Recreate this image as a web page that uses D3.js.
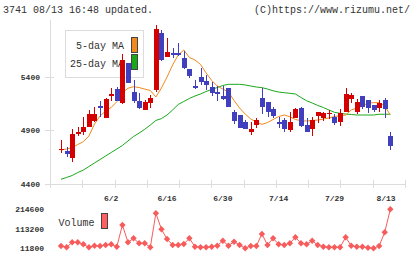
<!DOCTYPE html>
<html><head><meta charset="utf-8">
<script src="https://cdn.jsdelivr.net/npm/d3@7"></script>
<style>
html,body{margin:0;padding:0;background:#fff;}
svg{display:block;}
text{font-family:"Liberation Mono","DejaVu Sans Mono",monospace;}
</style></head>
<body>
<svg id="c" width="420" height="259"></svg>
<script>
const dates = ["5/20","5/21","5/22","5/23","5/26","5/27","5/28","5/29","5/30",
"6/2","6/3","6/4","6/5","6/6","6/9","6/10","6/11","6/12","6/13",
"6/16","6/17","6/18","6/19","6/20","6/23","6/24","6/25","6/26","6/27",
"6/30","7/1","7/2","7/3","7/4","7/7","7/8","7/9","7/10","7/11",
"7/14","7/15","7/16","7/17","7/18","7/22","7/23","7/24","7/25","7/28",
"7/29","7/30","7/31","8/1","8/4","8/5","8/6","8/7","8/8","8/12","8/13"];
const opens  = [4720,4710,4640,4863,4885,4934,4987,5127,5018,5223,5283,5158,5525,5260,5174,5090,5158,5276,5805,5586,
                5618,5618,5572,5469,5313,5397,5360,5307,5257,5220,5295,5068,5043,4978,4887,4950,5202,5162,5097,4981,
                4996,4903,5018,5111,4950,4913,5037,5012,5050,5024,4975,5074,5189,5068,5220,5183,5136,5111,5183,4850];
const highs  = [4810,4748,4910,4934,5020,5090,5120,5174,5204,5298,5307,5609,5530,5369,5248,5183,5229,5882,5835,5764,
                5665,5711,5637,5472,5369,5478,5416,5355,5313,5311,5295,5092,5043,4996,4982,5018,5295,5162,5120,5023,
                5012,5068,5106,5120,5012,5027,5074,5074,5090,5050,5099,5298,5245,5192,5220,5183,5136,5183,5204,4887];
const lows   = [4686,4654,4602,4847,4857,4927,4980,5022,5012,5176,5176,5146,5340,5155,5099,5085,5106,5260,5546,5581,
                5572,5593,5469,5388,5281,5323,5276,5220,5176,5186,5113,4962,4925,4913,4860,4924,5052,5024,5018,4924,
                4887,4887,5012,4934,4887,4850,4966,4990,5003,4950,4943,5074,5152,5050,5099,5059,5074,5074,5012,4717];
const closes = [4725,4682,4866,4882,4931,5050,5050,5106,5192,5239,5176,5556,5344,5174,5111,5167,5204,5845,5556,5633,
                5602,5605,5484,5411,5297,5351,5323,5251,5242,5188,5113,4987,4925,4915,4910,4996,5113,5074,5034,4956,
                4915,4981,5099,4941,4887,4996,5074,5059,5059,4970,5059,5239,5229,5162,5120,5106,5090,5158,5099,4754];
const ma5  = [4717,4726,4740,4768,4794,4847,4959,5034,5080,5113,5167,5248,5292,5307,5299,5285,5271,5211,5295,5397,
              5509,5602,5649,5579,5556,5514,5435,5365,5313,5285,5257,5178,5108,5052,5006,4978,4956,4973,5001,5029,
              5043,5027,5001,4990,4987,4992,4996,5006,5015,5029,5036,5043,5090,5108,5127,5155,5158,5158,5127,5043];
const ma25 = [4444,4461,4479,4507,4530,4563,4596,4628,4661,4694,4726,4759,4801,4843,4875,4910,4950,4992,5010,5043,
              5090,5141,5169,5197,5220,5239,5262,5281,5299,5318,5329,5329,5329,5323,5313,5304,5298,5285,5269,5257,
              5251,5245,5239,5206,5176,5155,5132,5113,5090,5068,5059,5052,5048,5043,5043,5043,5043,5050,5050,5050];
const volumes = [23800,17000,43000,43000,32600,17000,25300,23800,29000,32600,20100,133000,43000,63800,37800,37800,17000,193800,110600,60200,
                 29000,29000,34200,63800,20100,17000,17000,20100,25300,51300,25300,46100,29000,11800,23800,23800,86200,29000,63800,32600,
                 29000,37800,69000,37800,32600,51300,29000,20100,17000,17000,17000,69000,25300,20100,20100,15000,11800,23800,95000,214600];
const priceTicks = [4400,4900,5400];
const volumeTicks = [11800,113200,214600];
const dateLabels = ["6/2","6/16","6/30","7/14","7/29","8/13"];
const headerLeft = "3741 08/13 16:48 updated.";
const headerRight = "(C)https://www.rizumu.net/";
const legendItems = [{name:"5-day MA", color:"#f08a1c"},{name:"25-day MA", color:"#1aa81a"}];

const svg = d3.select("#c");
const UP = "#d40000", DOWN = "#4040bf", AXIS = "#dcdcdc", TXT = "#333";

const x = d3.scalePoint().domain(dates).range([61, 390.3]);
const y = d3.scaleLinear().domain([4400, 5400]).range([184, 76.7]);
const yv = d3.scaleLinear().domain([11800, 214600]).range([248.3, 209.3]);
const xg = d3.scaleLinear().domain([0, 11]).range([50, 405]);

// header
svg.append("text").attr("x", 3).attr("y", 13).attr("font-size", 10).attr("fill", TXT).text(headerLeft);
svg.append("text").attr("x", 410).attr("y", 13).attr("font-size", 10).attr("fill", TXT).attr("text-anchor","end").text(headerRight);

// axes
const g = svg.append("g").attr("shape-rendering","crispEdges");
g.append("line").attr("x1",50.5).attr("x2",50.5).attr("y1",20).attr("y2",188).attr("stroke",AXIS);
g.append("line").attr("x1",50).attr("x2",405).attr("y1",184.5).attr("y2",184.5).attr("stroke",AXIS);
g.selectAll(".xt").data(d3.range(0,12)).join("line")
  .attr("x1", d => Math.round(xg(d))+0.5).attr("x2", d => Math.round(xg(d))+0.5)
  .attr("y1",180).attr("y2",188).attr("stroke",AXIS);
g.selectAll(".yt").data(priceTicks).join("line")
  .attr("x1",45).attr("x2",54).attr("y1", d => Math.round(y(d))+0.5).attr("y2", d => Math.round(y(d))+0.5).attr("stroke",AXIS);
svg.selectAll(".yl").data(priceTicks).join("text")
  .attr("x",40).attr("y", d => y(d)+3).attr("text-anchor","end").attr("font-size",8).attr("font-weight","bold").attr("fill",TXT)
  .text(d => d);
svg.selectAll(".dl").data(dateLabels).join("text")
  .attr("x", d => Math.min(x(d), 386)).attr("y",201).attr("text-anchor","middle").attr("font-size",8).attr("font-weight","bold").attr("fill",TXT)
  .text(d => d);

// legend box
const lg = svg.append("g").attr("shape-rendering","crispEdges");
lg.append("rect").attr("x",65.5).attr("y",30.5).attr("width",78).attr("height",47).attr("fill","#fff").attr("stroke","#dcdcdc");
legendItems.forEach((it,i) => {
  svg.append("text").attr("x",124).attr("y",49.3 + i*17.4).attr("text-anchor","end").attr("font-size",10).attr("fill",TXT).text(it.name);
  lg.append("rect").attr("x",131.5).attr("y",37.5 + i*17).attr("width",5.5).attr("height",14.5).attr("fill",it.color).attr("stroke","#444");
});

// MA lines
const lineGen = d3.line().x((d,i) => x(dates[i])).y(d => y(d));
svg.append("path").datum(ma25).attr("d", lineGen).attr("fill","none").attr("stroke",legendItems[1].color).attr("stroke-width",1);
svg.append("path").datum(ma5).attr("d", lineGen).attr("fill","none").attr("stroke",legendItems[0].color).attr("stroke-width",1);

// candles
const cg = svg.append("g").attr("shape-rendering","crispEdges");
const cd = dates.map((d,i) => ({d, o:opens[i], h:highs[i], l:lows[i], c:closes[i]}));
cg.selectAll(".w").data(cd).join("line")
  .attr("x1", d => Math.round(x(d.d))+0.5).attr("x2", d => Math.round(x(d.d))+0.5)
  .attr("y1", d => y(d.h)).attr("y2", d => y(d.l))
  .attr("stroke", d => d.c >= d.o ? UP : DOWN);
cg.selectAll(".b").data(cd).join("rect")
  .attr("x", d => Math.round(x(d.d))-2).attr("width", 5)
  .attr("y", d => y(Math.max(d.o,d.c)))
  .attr("height", d => Math.max(1.2, y(Math.min(d.o,d.c)) - y(Math.max(d.o,d.c))))
  .attr("fill", d => d.c >= d.o ? UP : DOWN);

// volume
const VC = "#f75c5c";
svg.append("path").datum(volumes)
  .attr("d", d3.line().x((d,i) => x(dates[i])).y(d => yv(d)))
  .attr("fill","none").attr("stroke",VC).attr("stroke-width",1);
svg.selectAll(".vm").data(volumes).join("path")
  .attr("transform", (d,i) => `translate(${x(dates[i])},${yv(d)})`)
  .attr("d","M0,-3.2L3.2,0L0,3.2L-3.2,0Z").attr("fill",VC);
svg.selectAll(".vl").data(volumeTicks).join("text")
  .attr("x",44).attr("y", d => yv(d)+3).attr("text-anchor","end").attr("font-size",8).attr("font-weight","bold").attr("fill",TXT)
  .text(d => d);
svg.append("text").attr("x",58.5).attr("y",225.5).attr("font-size",10).attr("fill",TXT).text("Volume");
svg.append("rect").attr("x",101.5).attr("y",213.5).attr("width",5.5).attr("height",14.5).attr("fill","#ff6060").attr("stroke","#444").attr("shape-rendering","crispEdges");
</script>
</body></html>
